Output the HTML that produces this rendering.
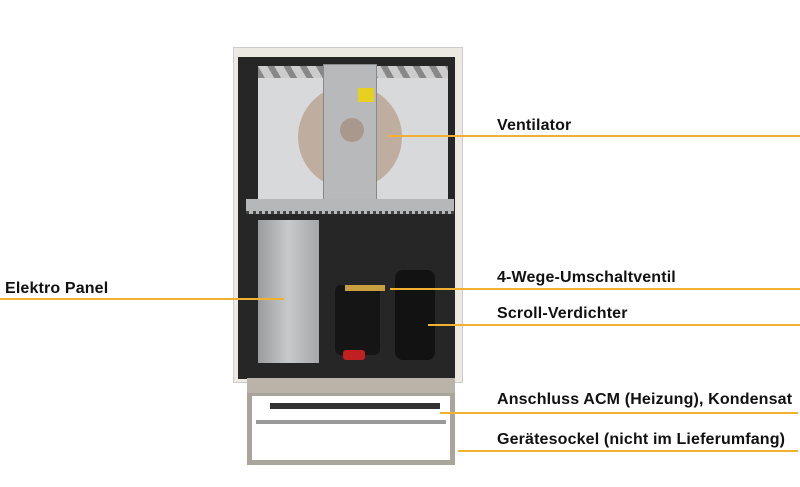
<!DOCTYPE html>
<html><head><meta charset="utf-8"><style>
body{margin:0;width:800px;height:487px;background:#fff;position:relative;overflow:hidden;font-family:"Liberation Sans",sans-serif}
div{position:absolute;box-sizing:border-box}
.t{font-weight:bold;font-size:16px;letter-spacing:0.15px;color:#111;white-space:nowrap;line-height:1}
.l{height:2px;background:#f0b030}
</style></head><body>
<!-- cabinet -->
<div style="left:233px;top:47px;width:230px;height:336px;background:#ece9e2;border:1px solid #ccc"></div>
<div style="left:238px;top:57px;width:217px;height:322px;background:#262626"></div>
<div style="left:258px;top:66px;width:190px;height:136px;background:#d8d9da"></div>
<div style="left:258px;top:66px;width:190px;height:12px;background:repeating-linear-gradient(60deg,#888 0 6px,#ccc 6px 14px)"></div>
<div style="left:298px;top:85px;width:104px;height:104px;border-radius:50%;background:#bfae9f"></div>
<div style="left:323px;top:64px;width:54px;height:141px;background:#b7b9bb;border:1px solid #888"></div>
<div style="left:340px;top:118px;width:24px;height:24px;border-radius:50%;background:#a8998c"></div>
<div style="left:358px;top:88px;width:16px;height:14px;background:#e8d020"></div>
<div style="left:246px;top:199px;width:208px;height:15px;background:#b5b7b9;border-bottom:3px dotted #444"></div>
<div style="left:258px;top:220px;width:61px;height:143px;background:linear-gradient(90deg,#9a9c9e,#c7c9ca,#a5a7a9)"></div>
<div style="left:335px;top:285px;width:45px;height:70px;background:#151515;border-radius:6px"></div>
<div style="left:395px;top:270px;width:40px;height:90px;background:#121212;border-radius:8px"></div>
<div style="left:345px;top:285px;width:40px;height:6px;background:#c9a040"></div>
<div style="left:343px;top:350px;width:22px;height:10px;background:#c02020;border-radius:3px"></div>
<div style="left:247px;top:378px;width:208px;height:16px;background:#b9b3a8"></div>
<!-- stand -->
<div style="left:247px;top:393px;width:208px;height:72px;border:5px solid #aaa49a;border-top:3px solid #aaa49a"></div>
<div style="left:270px;top:403px;width:170px;height:6px;background:#333"></div>
<div style="left:256px;top:420px;width:190px;height:4px;background:#999"></div>
<!-- labels -->
<div class="t" style="left:497px;top:118px">Ventilator</div>
<div class="l" style="left:388px;top:135px;width:412px"></div>
<div class="t" style="left:5px;top:281px">Elektro Panel</div>
<div class="l" style="left:0;top:298px;width:284px"></div>
<div class="t" style="left:497px;top:270px">4-Wege-Umschaltventil</div>
<div class="l" style="left:390px;top:288px;width:410px"></div>
<div class="t" style="left:497px;top:306px">Scroll-Verdichter</div>
<div class="l" style="left:428px;top:324px;width:372px"></div>
<div class="t" style="left:497px;top:392px">Anschluss ACM (Heizung), Kondensat</div>
<div class="l" style="left:440px;top:412px;width:358px"></div>
<div class="t" style="left:497px;top:432px">Gerätesockel (nicht im Lieferumfang)</div>
<div class="l" style="left:458px;top:450px;width:340px"></div>
</body></html>
